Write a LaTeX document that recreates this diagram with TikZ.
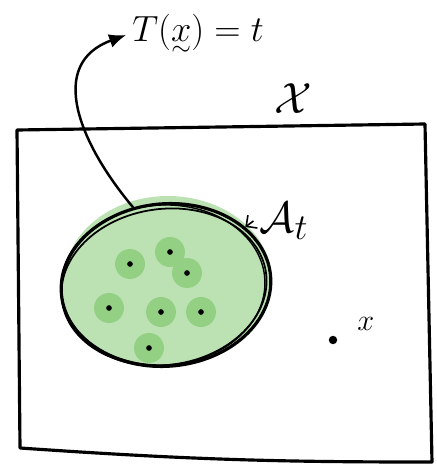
\documentclass[tikz,border=0pt]{standalone}
\usepackage{amsmath,amssymb}
\usetikzlibrary{positioning,arrows.meta,shapes.geometric}
\definecolor{regfill}{HTML}{BCE2B4}
\definecolor{ptfill}{HTML}{93D084}
\newcommand{\tildex}{\mathord{\ooalign{$x$\cr\hidewidth\raisebox{-0.85ex}{$\scriptstyle\sim$}\hidewidth\cr}}}

\begin{document}
\begin{tikzpicture}[x=0.02cm, y=0.02cm, font=\fontsize{22}{26}\selectfont,
  a/.style={line width=1.4pt, -{Latex[length=3.4mm, width=2.8mm]}},
  pt/.style={circle, fill=ptfill, inner sep=0pt, minimum size=0.6cm,
    path picture={\fill[black] (path picture bounding box.center) circle (1.6pt);}}]
\useasboundingbox (0,0) rectangle (437,471);
% sample space
\draw[line width=1.8pt, line join=round] (17,341) -- (425,347) -- (432,9) to[bend left=2] (20,23) -- cycle;
\node[font=\fontsize{30}{34}\selectfont] (space) at (293,372) {$\mathcal{X}$};
% region A_t
\fill[regfill] (168,190) ellipse [x radius=104, y radius=85];
\node[ellipse, draw, line width=1.8pt, fill=regfill, minimum width=4.2cm, minimum height=3.25cm, rotate=5] (At) at (166,186) {};
\draw[line width=1pt, rotate around={8:(164,184)}] (164,184) ellipse [x radius=103, y radius=78];
\draw[line width=0.8pt, rotate around={3:(163,186)}] (163,186) ellipse [x radius=102, y radius=80];
\foreach \px/\py [count=\i] in {130/207, 170/219, 187/198, 109/163, 161/159, 201/159, 149/123}
  \node[pt] (p\i) at (\px,\py) {};
\node[font=\fontsize{32}{36}\selectfont] (Alab) at (284,250) {$\mathcal{A}_t$};
\draw[line width=0.9pt, -{Straight Barb[length=1.6mm]}] (Alab.west) -- (At);
% statistic
\node (stat) at (198,436) {$T(\tildex) = t$};
\draw[a] (At.108) to[out=130, in=200, looseness=1.25] (stat.west);
% outside point
\node[circle, fill, inner sep=1.7pt] (x0) at (333,131) {};
\node[font=\LARGE, above right=0mm and 3mm of x0] (xlab) {$x$};
\end{tikzpicture}
\end{document}
